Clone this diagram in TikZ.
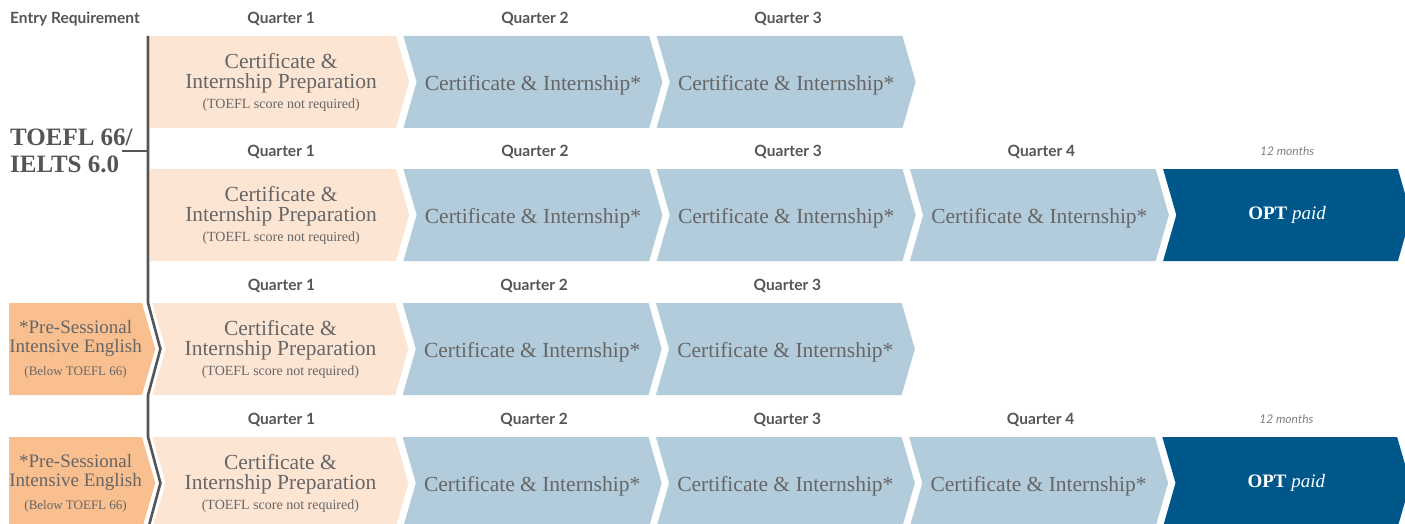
\documentclass[tikz,border=0pt]{standalone}
\usepackage{fontspec}
\setmainfont{Liberation Serif}
\newfontfamily\headfont{Lato}
\usetikzlibrary{shapes.symbols, positioning, calc}
\definecolor{peach}{HTML}{FDE5D4}
\definecolor{steel}{HTML}{B3CCDB}
\definecolor{navy}{HTML}{00578A}
\definecolor{apricot}{HTML}{F9BF8F}
\definecolor{ink}{HTML}{666666}
\definecolor{railgray}{HTML}{555555}

\begin{document}
\begin{tikzpicture}[x=1pt,y=-1pt,node distance=7pt,
	chev/.style={signal, signal to=east, signal pointer angle=148,
		minimum height=92pt, minimum width=259pt, inner sep=0pt,
		align=center, text=ink, font=\fontsize{21.5}{20}\selectfont},
	notch/.style={signal from=west},
	prep/.style={chev, fill=peach},
	cert/.style={chev, notch, fill=steel},
	opt/.style={chev, notch, fill=navy, text=white, minimum width=248pt,
		font=\fontsize{19}{20}\selectfont},
	pre/.style={chev, fill=apricot, minimum width=146pt,
		font=\fontsize{19}{19}\selectfont},
	qlabel/.style={anchor=base, text=railgray, inner sep=0pt,
		font=\headfont\bfseries\fontsize{15.5}{15}\selectfont},
	span/.style={anchor=base, text=gray, inner sep=0pt,
		font=\headfont\itshape\fontsize{12}{12}\selectfont},
	railline/.style={draw=railgray, line width=2.6pt}]
	\useasboundingbox (0,0) rectangle (1405,524);
	\newcommand{\prepText}[1][0pt]{\hspace*{#1}Certificate \&\\
		\hspace*{#1}Internship Preparation\\
		\hspace*{#1}{\fontsize{14}{14}\selectfont(TOEFL score not required)}}
	\newcommand{\certText}{\raisebox{-3pt}[\height][\depth]{Certificate \& Internship*}}
	\newcommand{\optText}{\textbf{OPT} \textit{paid}}
	\newcommand{\preText}{*Pre-Sessional\\Intensive English\\[4pt]
		{\fontsize{13}{13}\selectfont(Below TOEFL 66)}}
	% row 1
	\node[prep] (p1) at (150,82) [anchor=west] {\prepText[16pt]};
	\node[cert, right=of p1] (c1a) {\certText};
	\node[cert, right=of c1a] (c1b) {\certText};
	% row 2
	\node[prep] (p2) at (150,215) [anchor=west] {\prepText[16pt]};
	\node[cert, right=of p2] (c2a) {\certText};
	\node[cert, right=of c2a] (c2b) {\certText};
	\node[cert, right=of c2b] (c2c) {\certText};
	\node[opt, right=of c2c] (o2) {\optText};
	% row 3
	\node[pre] (e3) at (9,349) [anchor=west] {\preText};
	\node[prep, notch, minimum width=256pt, right=10pt of e3] (p3) {\prepText};
	\node[cert, right=of p3] (c3a) {\certText};
	\node[cert, right=of c3a] (c3b) {\certText};
	% row 4
	\node[pre] (e4) at (9,483) [anchor=west] {\preText};
	\node[prep, notch, minimum width=256pt, right=10pt of e4] (p4) {\prepText};
	\node[cert, right=of p4] (c4a) {\certText};
	\node[cert, right=of c4a] (c4b) {\certText};
	\node[cert, right=of c4b] (c4c) {\certText};
	\node[opt, right=of c4c] (o4) {\optText};
	% headings
	\node[qlabel, anchor=base west] (entry) at (10,24) {Entry Requirement};
	\foreach \n/\q/\dx in {p1/1/8, c1a/2/2, c1b/3/2, p2/1/8, c2a/2/2, c2b/3/2, c2c/4/2,
		p3/1/1, c3a/2/2, c3b/3/2, p4/1/1, c4a/2/2, c4b/3/2, c4c/4/2}
		\node[qlabel] (q-\n) at ([xshift=\dx pt, yshift=12pt]\n.north) {Quarter \q};
	\node[span] (m2) at ([yshift=13pt]o2.north) {12 months};
	\node[span] (m4) at ([yshift=13pt]o4.north) {12 months};
	% entry requirement
	\node[anchor=west, align=left, text=railgray, inner sep=0pt,
		font=\bfseries\fontsize{25}{27}\selectfont] (req) at (10,151) {TOEFL 66/\\IELTS 6.0};
	\coordinate (rx) at (148,0);
	\coordinate (tick) at (122,151);
	\draw[railline] (rx |- p1.north) -- (rx |- e3.north)
		-- ($(e3.east)!.5!(p3.west)$) -- (rx |- e3.south) -- (rx |- e4.north)
		-- ($(e4.east)!.5!(p4.west)$) -- (rx |- e4.south);
	\draw[railline] (tick) -- (rx |- tick);
\end{tikzpicture}
\end{document}
